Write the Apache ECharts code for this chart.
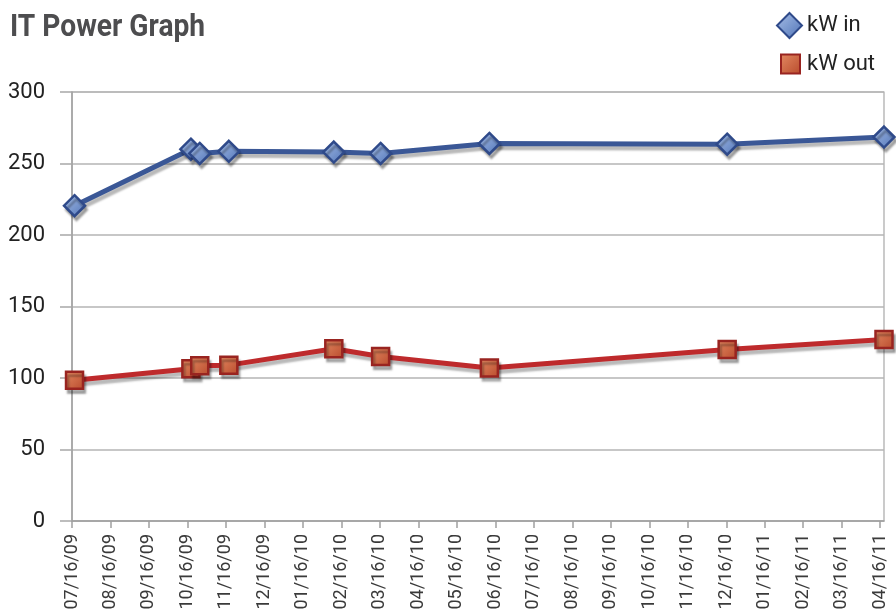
<!DOCTYPE html>
<html>
<head>
<meta charset="utf-8">
<script src="https://cdn.jsdelivr.net/npm/echarts@6/dist/echarts.min.js"></script>
<style>
html,body{margin:0;padding:0;background:#fff;}
#c{width:896px;height:609px;}
</style>
</head>
<body>
<div id="c"></div>
<script>
const dates = ['2009-07-18','2009-10-18','2009-10-25','2009-11-17','2010-02-08','2010-03-17','2010-06-11','2010-12-16','2011-04-19'];
const kwIn = [220.5, 260, 257, 258.5, 258, 257, 264, 263.5, 268.5];
const kwOut = [98.5, 106.5, 108.5, 109, 120.5, 115, 107, 120, 127];
const tickLabels = ['07/16/09','08/16/09','09/16/09','10/16/09','11/16/09','12/16/09','01/16/10','02/16/10','03/16/10','04/16/10','05/16/10','06/16/10','07/16/10','08/16/10','09/16/10','10/16/10','11/16/10','12/16/10','01/16/11','02/16/11','03/16/11','04/16/11'];
const axisStart = '2009-07-16';
const axisEnd = '2011-04-19';
const lastTick = '2011-04-16';

const DAY = 86400000;
function days(s){ return (Date.UTC(+s.slice(0,4), +s.slice(5,7)-1, +s.slice(8,10)) - Date.UTC(+axisStart.slice(0,4), +axisStart.slice(5,7)-1, +axisStart.slice(8,10))) / DAY; }
const xMax = days(axisEnd);
const step = days(lastTick) / (tickLabels.length - 1);
const tickValues = tickLabels.map((_, i) => i * step);

const FONT = '"Roboto", "DejaVu Sans", sans-serif';

const shadow = {shadowColor:'rgba(0,0,0,0.28)', shadowBlur:2, shadowOffsetX:2, shadowOffsetY:4};

const blueItem = {
  color: new echarts.graphic.LinearGradient(0,0,1,1,[{offset:0,color:'#A9C0E8'},{offset:1,color:'#4E72B6'}]),
  borderColor:'#2F4A8A', borderWidth:2.5, ...shadow
};
const redItem = {
  color: new echarts.graphic.LinearGradient(0,0,1,1,[{offset:0,color:'#E48A62'},{offset:1,color:'#B84A2C'}]),
  borderColor:'#992420', borderWidth:2.5, ...shadow
};

const chart = echarts.init(document.getElementById('c'));
chart.setOption({
  animation:false,
  backgroundColor:'#fff',
  graphic:[{
    type:'text', left:10, top:12, scaleX:0.88, scaleY:1, originX:0,
    style:{text:'IT Power Graph', font:'bold 32px Roboto, "DejaVu Sans", sans-serif', fill:'#4D4D4F'}
  }],
  legend:[
    {data:[{name:'kW in', icon:'diamond'}], orient:'vertical', left:771, top:7,
     itemWidth:25, itemHeight:25, itemGap:0,
     textStyle:{fontFamily:FONT, fontSize:22, color:'#222'}},
    {data:[{name:'kW out', icon:'rect'}], orient:'vertical', left:775, top:48,
     itemWidth:19, itemHeight:19, itemGap:0,
     textStyle:{fontFamily:FONT, fontSize:22, color:'#222', padding:[0,0,0,2]}}
  ],
  grid:{left:72, right:12, top:92, bottom:88, outerBoundsMode:'none', containLabel:false,
        show:true, borderColor:'#A8A8A8', borderWidth:1.2},
  xAxis:{
    type:'value', min:0, max:xMax,
    axisLine:{show:true, onZero:false, lineStyle:{color:'#A0A0A0', width:1.5}},
    axisTick:{show:true, length:7, customValues:tickValues, lineStyle:{color:'#A0A0A0', width:1.5}},
    splitLine:{show:false},
    axisLabel:{
      customValues:tickValues, rotate:90, margin:13, hideOverlap:false,
      fontFamily:FONT, fontSize:18, color:'#3A3A3A',
      formatter:function(v){ const i = Math.round(v/step); return tickLabels[i] || ''; }
    }
  },
  yAxis:{
    type:'value', min:0, max:300, interval:50,
    axisLine:{show:true, onZero:false, lineStyle:{color:'#A0A0A0', width:1.5}},
    axisTick:{show:true, length:12, inside:false, lineStyle:{color:'#A8A8A8', width:1.5}},
    splitLine:{show:true, lineStyle:{color:'#B4B4B4', width:1.5}},
    axisLabel:{margin:27, fontFamily:FONT, fontSize:22, color:'#222'}
  },
  series:[
    {name:'kW in', type:'line', symbol:'diamond', symbolSize:21,
     data: dates.map((d,i)=>[days(d), kwIn[i]]),
     lineStyle:{color:'#3A5796', width:5, ...shadow},
     itemStyle:blueItem, z:3},
    {name:'kW out', type:'line', symbol:'rect', symbolSize:17,
     data: dates.map((d,i)=>[days(d), kwOut[i]]),
     lineStyle:{color:'#BE2A2C', width:5, ...shadow},
     itemStyle:redItem, z:3}
  ]
});
</script>
</body>
</html>
